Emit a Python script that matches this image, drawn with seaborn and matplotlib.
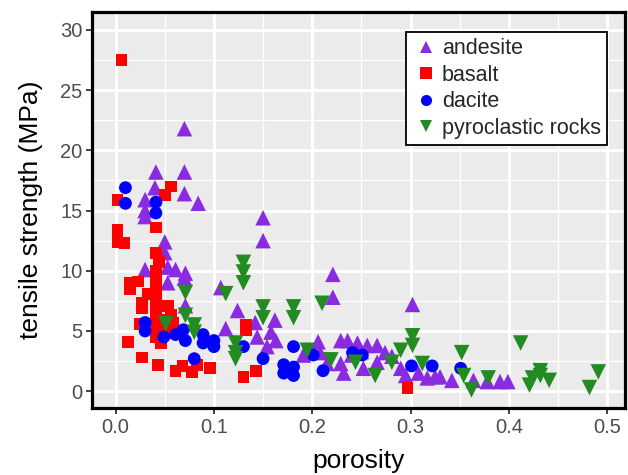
import pandas as pd
import matplotlib
matplotlib.use("Agg")
import matplotlib.pyplot as plt
import seaborn as sns
from matplotlib.ticker import MultipleLocator

# values (porosity, tensile strength in MPa)
andesite_x = [0.070, 0.041, 0.070, 0.040, 0.070, 0.084, 0.030, 0.030, 0.030, 0.150,
              0.150, 0.050, 0.050, 0.030, 0.053, 0.061, 0.071, 0.070, 0.053, 0.071,
              0.107, 0.124, 0.112, 0.142, 0.162, 0.158, 0.144, 0.163, 0.154, 0.221,
              0.221, 0.302, 0.206, 0.191, 0.208, 0.229, 0.236, 0.246, 0.256, 0.266,
              0.274, 0.229, 0.232, 0.252, 0.266, 0.290, 0.295, 0.308, 0.317, 0.325,
              0.215, 0.330, 0.342, 0.364, 0.378, 0.391, 0.399, 0.240, 0.250, 0.281]
andesite_y = [21.8, 18.2, 18.2, 16.9, 16.4, 15.6, 15.9, 15.0, 14.5, 14.4,
              12.5, 12.4, 11.5, 10.1, 10.3, 10.1, 9.8, 9.4, 9.0, 7.1,
              8.6, 6.7, 5.2, 5.7, 5.9, 4.9, 4.5, 4.2, 3.7, 9.7,
              7.8, 7.2, 4.1, 3.0, 3.2, 4.2, 4.2, 4.0, 3.8, 3.8,
              3.2, 2.3, 1.5, 1.9, 2.4, 1.9, 1.3, 1.5, 1.1, 1.2,
              2.3, 1.2, 0.9, 0.9, 0.8, 0.8, 0.8, 3.0, 3.3, 2.9]

basalt_x = [0.006, 0.056, 0.050, 0.002, 0.041, 0.002, 0.002, 0.009, 0.041, 0.044,
            0.041, 0.015, 0.023, 0.015, 0.033, 0.041, 0.041, 0.027, 0.027, 0.041,
            0.053, 0.041, 0.056, 0.025, 0.036, 0.046, 0.058, 0.041, 0.041, 0.046,
            0.013, 0.027, 0.043, 0.061, 0.068, 0.078, 0.083, 0.096, 0.130, 0.143,
            0.133, 0.133, 0.297, 0.050, 0.060]
basalt_y = [27.5, 17.0, 16.3, 15.9, 13.6, 13.4, 12.4, 12.3, 11.5, 10.7,
            10.0, 9.0, 9.1, 8.5, 8.1, 9.0, 8.0, 7.3, 6.9, 7.0,
            7.1, 6.3, 6.3, 5.6, 5.6, 5.9, 5.7, 5.0, 4.5, 4.0,
            4.1, 2.8, 2.2, 1.7, 2.1, 1.6, 2.2, 1.9, 1.2, 1.7,
            5.5, 5.1, 0.25, 5.2, 4.8]

dacite_x = [0.010, 0.010, 0.041, 0.041, 0.030, 0.030, 0.049, 0.061, 0.069, 0.071,
            0.089, 0.089, 0.080, 0.100, 0.100, 0.130, 0.150, 0.181, 0.171, 0.181,
            0.171, 0.181, 0.201, 0.211, 0.241, 0.251, 0.301, 0.322, 0.351]
dacite_y = [16.9, 15.6, 15.7, 14.8, 5.7, 5.0, 4.5, 4.7, 5.1, 4.2,
            4.7, 4.0, 2.7, 4.2, 3.7, 3.7, 2.7, 3.7, 2.2, 2.0,
            1.5, 1.3, 3.0, 1.7, 3.2, 3.0, 2.1, 2.1, 1.9]

pyro_x = [0.071, 0.071, 0.051, 0.080, 0.080, 0.112, 0.130, 0.130, 0.130, 0.150,
          0.150, 0.122, 0.122, 0.122, 0.181, 0.181, 0.210, 0.195, 0.219, 0.244,
          0.264, 0.281, 0.290, 0.302, 0.302, 0.312, 0.352, 0.354, 0.362, 0.379,
          0.412, 0.421, 0.424, 0.432, 0.432, 0.441, 0.482, 0.491]
pyro_y = [8.2, 6.3, 5.6, 5.5, 4.9, 8.1, 10.7, 9.9, 9.0, 7.0,
          6.1, 4.0, 3.2, 2.7, 7.0, 6.1, 7.3, 3.4, 2.6, 2.4,
          1.3, 2.4, 3.4, 4.6, 3.8, 2.3, 3.2, 1.3, 0.1, 1.1,
          4.0, 0.5, 1.1, 1.7, 1.3, 0.9, 0.3, 1.6]

rock_types = ["andesite", "basalt", "dacite", "pyroclastic rocks"]

df = pd.concat([
    pd.DataFrame({"porosity": andesite_x, "strength": andesite_y, "rock": "andesite"}),
    pd.DataFrame({"porosity": basalt_x, "strength": basalt_y, "rock": "basalt"}),
    pd.DataFrame({"porosity": dacite_x, "strength": dacite_y, "rock": "dacite"}),
    pd.DataFrame({"porosity": pyro_x, "strength": pyro_y, "rock": "pyroclastic rocks"}),
], ignore_index=True)

palette = {"andesite": "#8A2BE2", "basalt": "#FF0000",
           "dacite": "#0000FF", "pyroclastic rocks": "#228B22"}
markers = {"andesite": "^", "basalt": "s", "dacite": "o", "pyroclastic rocks": "v"}
sizes = {"andesite": 125, "basalt": 72, "dacite": 85, "pyroclastic rocks": 125}

sns.set_style("darkgrid", {"axes.facecolor": "#EBEBEB", "grid.color": "white"})
plt.rcParams["font.family"] = ["Liberation Sans", "DejaVu Sans"]

fig = plt.figure(figsize=(6.28, 4.75), dpi=100)
ax = fig.add_axes([0.1465, 0.141, 0.8485, 0.834])

sns.scatterplot(data=df, x="porosity", y="strength", hue="rock", style="rock",
                size="rock", sizes=sizes,
                hue_order=rock_types, style_order=rock_types, size_order=rock_types,
                palette=palette, markers=markers, linewidth=0, ax=ax)

ax.set_xlim(-0.024, 0.518)
ax.set_ylim(-1.4, 31.5)
ax.xaxis.set_major_locator(MultipleLocator(0.1))
ax.xaxis.set_minor_locator(MultipleLocator(0.05))
ax.yaxis.set_major_locator(MultipleLocator(5))
ax.yaxis.set_minor_locator(MultipleLocator(2.5))
ax.set_xticklabels([f"{v:.1f}" for v in ax.get_xticks()])
ax.grid(which="major", color="white", linewidth=2.1)
ax.grid(which="minor", color="white", linewidth=1.0)
ax.set_axisbelow(True)

for sp in ax.spines.values():
    sp.set_visible(True)
    sp.set_color("black")
    sp.set_linewidth(2.3)

ax.tick_params(which="major", length=4, width=1.3, color="#333333",
               labelsize=14.5, labelcolor="#4D4D4D", pad=3, left=True, bottom=True)
ax.tick_params(which="minor", length=0)

ax.set_xlabel("porosity", fontsize=19, color="black", labelpad=9)
ax.set_ylabel("tensile strength (MPa)", fontsize=19, color="black", labelpad=12)

handles, labels = ax.get_legend_handles_labels()
for h in handles:
    h.set_markersize(8)
leg = ax.legend(handles, labels, loc="upper right", bbox_to_anchor=(0.987, 0.977),
                fontsize=15.5, frameon=True, fancybox=False, framealpha=1,
                edgecolor="black", handletextpad=0.15, borderpad=0.3,
                labelspacing=0.26, handlelength=1.2)
leg.get_frame().set_linewidth(1.3)
leg.get_frame().set_facecolor("white")

fig.savefig("out.png", dpi=100)
